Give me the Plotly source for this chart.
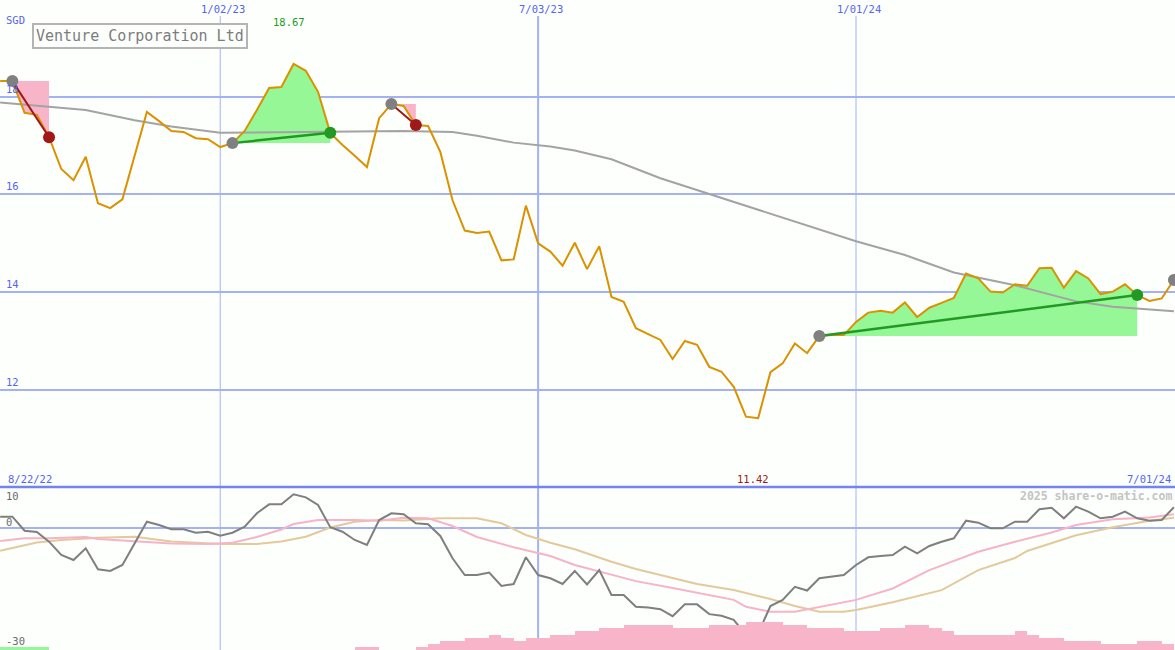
import plotly.graph_objects as go
import pandas as pd

W, H = 1175, 650
SPLIT = 163 / H          # paper y where the price panel starts

# ---------------- data ----------------
dates = pd.date_range("2022-08-29", periods=97, freq="7D")   # weekly points
K0 = 19                                                        # week index k -> list position k + K0

price = [18.32, 18.32, 17.67, 17.63, 17.17, 16.52, 16.29, 16.77, 15.82, 15.72,
         15.90, 16.81, 17.69, 17.50, 17.30, 17.28, 17.15, 17.13, 16.97, 17.05,
         17.30, 17.73, 18.18, 18.20, 18.67, 18.53, 18.10, 17.26, 17.01, 16.79,
         16.56, 17.56, 17.85, 17.81, 17.42, 17.40, 16.87, 15.88, 15.26, 15.21,
         15.24, 14.65, 14.67, 15.77, 15.00, 14.83, 14.54, 15.01, 14.47, 14.94,
         13.90, 13.80, 13.26, 13.14, 13.02, 12.63, 13.00, 12.92, 12.47, 12.37,
         12.06, 11.45, 11.42, 12.36, 12.54, 12.95, 12.75, 13.10, 13.12, 13.12,
         13.39, 13.58, 13.62, 13.58, 13.79, 13.49, 13.68, 13.78, 13.88, 14.38,
         14.28, 14.01, 13.99, 14.16, 14.13, 14.49, 14.50, 14.09, 14.43, 14.28,
         13.96, 14.01, 14.16, 13.94, 13.82, 13.87, 14.25]

ma_k = [-19, -15, -12, -8, -5, -1, 8, 14, 18, 20, 23, 26, 28, 31, 35, 39, 42, 46,
        51, 55, 59, 64, 69, 72, 77]
ma_v = [17.88, 17.80, 17.73, 17.52, 17.39, 17.26, 17.28, 17.30, 17.28, 17.20, 17.06,
        16.98, 16.90, 16.72, 16.33, 16.01, 15.77, 15.45, 15.04, 14.76, 14.40, 14.14,
        13.81, 13.70, 13.61]

osc = [2.71, 2.71, -0.72, -1.04, -3.42, -6.69, -7.91, -5.04, -10.2, -10.6,
       -9.14, -3.99, 1.48, 0.67, -0.38, -0.38, -1.21, -0.97, -1.95, -1.21,
       0.26, 3.55, 5.75, 5.75, 8.21, 7.47, 5.58, 0.11, -0.97, -3.0,
       -4.23, 1.9, 3.55, 3.3, 1.09, 0.85, -2.0, -7.5, -11.6, -11.6,
       -11.0, -14.3, -13.8, -7.25, -11.6, -12.4, -13.8, -10.6, -13.9, -10.4,
       -16.5, -16.5, -19.4, -19.6, -20.0, -21.7, -18.8, -18.8, -21.2, -21.6,
       -22.6, -26.3, -25.9, -19.2, -17.7, -14.5, -15.4, -12.4, -12.0, -11.6,
       -9.14, -7.25, -6.93, -6.69, -4.65, -6.27, -4.48, -3.42, -2.59, 1.73,
       1.24, -0.13, -0.13, 1.48, 1.48, 4.53, 4.92, 2.32, 5.17, 3.94,
       2.32, 2.71, 3.94, 2.32, 1.73, 1.9, 5.02]

pink_k = [-19, -17, -15, -12, -11, -8, -6, -5, -2, 0, 2, 4, 5, 7, 10, 12, 14, 16,
          18, 20, 23, 26, 28, 30, 33, 36, 38, 41, 42, 44, 46, 48, 51, 54, 57, 61,
          64, 67, 69, 72, 75, 77]
pink_v = [-3.25, -2.59, -2.59, -2.27, -2.76, -3.25, -3.67, -3.87, -3.99, -3.67,
          -2.27, -0.43, 0.92, 1.90, 1.90, 1.73, 2.47, 2.32, 0.43, -2.27, -4.80,
          -6.93, -9.14, -10.8, -13.1, -14.8, -15.9, -17.7, -19.4, -20.6, -20.6,
          -19.5, -17.7, -14.9, -10.4, -5.88, -3.42, -1.17, 0.67, 2.07, 2.52, 3.30]

tan_k = [-19, -17, -16, -14, -11, -8, -6, -5, -3, -1, 2, 4, 6, 8, 10, 12, 14, 17,
         20, 22, 24, 26, 28, 31, 33, 36, 38, 41, 44, 46, 48, 50, 51, 54, 58, 61,
         64, 65, 69, 72, 75, 77]
tan_v = [-5.63, -4.36, -3.62, -3.0, -2.44, -2.2, -3.1, -3.4, -3.67, -3.99, -3.99,
         -3.4, -2.2, 0.06, 1.46, 1.90, 1.78, 2.32, 2.32, 1.09, -1.78, -3.67, -5.29,
         -8.33, -10.1, -12.3, -13.8, -15.3, -17.5, -19.2, -20.6, -20.6, -20.2, -18.3,
         -15.3, -10.4, -7.42, -5.7, -1.85, 0.11, 1.73, 2.47]

hist_pink_k = [10, 11] + list(range(15, 77))
hist_pink_v = [1, 1,
               1, 2, 3, 3, 4, 4, 5, 4, 3, 4, 4, 5, 5, 6, 6, 7, 7, 8, 8, 8, 8,
               7, 7, 7, 8, 8, 8, 9, 9, 9, 8, 8, 7, 7, 7, 6, 6, 6, 7, 7, 8, 8,
               7, 6, 5, 5, 5, 5, 5, 6, 5, 4, 4, 3, 3, 3, 2, 2, 2, 3, 3, 2]
hist_green_k = [-19, -18, -17, -16]
hist_green_v = [1, 1, 1, 1]

drops = [(-18, -15), (13, 15)]      # (start week, end week)
rises = [(0, 8), (48, 74)]
open_signals = [77]

grid_dates = ["2023-01-02", "2023-07-03", "2024-01-01"]
grid_labels = ["1/02/23", "7/03/23", "1/01/24"]
grid_widths = [1, 2, 1]
price_ticks = [12, 14, 16, 18]

# ---------------- styling ----------------
BG = "#fcfffc"
BLUE_TXT = "#5565ee"
GRID = "#a4b2f2"
ORANGE = "#da9200"
PINK = "#f8b5c9"
LGREEN = "#96f796"
DGREEN = "#229922"
DRED = "#a01818"
GRAY = "#808080"
FONT = "DejaVu Sans Mono"


def d(k):
    return dates[k + K0]


def p(k):
    return price[k + K0]


fig = go.Figure()

# signal areas (drops pink, rises green)
for (s, e), col in [(r, PINK) for r in drops] + [(r, LGREEN) for r in rises]:
    xs = [d(k) for k in range(s, e + 1)] + [d(e), d(s)]
    ys = [p(k) for k in range(s, e + 1)] + [p(s), p(s)]
    fig.add_trace(go.Scatter(x=xs, y=ys, mode="lines", fill="toself", fillcolor=col,
                             line=dict(width=0), hoverinfo="skip", xaxis="x", yaxis="y"))

# moving average
fig.add_trace(go.Scatter(x=[d(k) for k in ma_k], y=ma_v, mode="lines",
                         line=dict(color="#a3a3a3", width=2), xaxis="x", yaxis="y"))
# price
fig.add_trace(go.Scatter(x=list(dates), y=price, mode="lines",
                         line=dict(color=ORANGE, width=2), xaxis="x", yaxis="y"))

# signal lines
for s, e in drops:
    fig.add_trace(go.Scatter(x=[d(s), d(e)], y=[p(s), p(e)], mode="lines",
                             line=dict(color=DRED, width=2), xaxis="x", yaxis="y"))
for s, e in rises:
    fig.add_trace(go.Scatter(x=[d(s), d(e)], y=[p(s), p(e)], mode="lines",
                             line=dict(color=DGREEN, width=2.5), xaxis="x", yaxis="y"))

# markers
starts = [s for s, _ in drops] + [s for s, _ in rises] + open_signals
fig.add_trace(go.Scatter(x=[d(k) for k in starts], y=[p(k) for k in starts], mode="markers",
                         marker=dict(color=GRAY, size=12, line=dict(width=0)), xaxis="x", yaxis="y"))
fig.add_trace(go.Scatter(x=[d(e) for _, e in drops], y=[p(e) for _, e in drops], mode="markers",
                         marker=dict(color=DRED, size=12, line=dict(width=0)), xaxis="x", yaxis="y"))
fig.add_trace(go.Scatter(x=[d(e) for _, e in rises], y=[p(e) for _, e in rises], mode="markers",
                         marker=dict(color=DGREEN, size=12, line=dict(width=0)), xaxis="x", yaxis="y"))

# ---------------- lower panel ----------------
WEEK_MS = 7 * 86400000
fig.add_trace(go.Bar(x=[d(k) for k in hist_pink_k], y=hist_pink_v, offset=0, width=WEEK_MS,
                     marker=dict(color=PINK, line=dict(width=0)), xaxis="x2", yaxis="y3"))
fig.add_trace(go.Bar(x=[d(k) for k in hist_green_k], y=hist_green_v, offset=0, width=WEEK_MS,
                     marker=dict(color=LGREEN, line=dict(width=0)), xaxis="x2", yaxis="y3"))
fig.add_trace(go.Scatter(x=[d(k) for k in tan_k], y=tan_v, mode="lines",
                         line=dict(color="#e3c99c", width=2), xaxis="x2", yaxis="y2"))
fig.add_trace(go.Scatter(x=[d(k) for k in pink_k], y=pink_v, mode="lines",
                         line=dict(color="#f7b3c8", width=2), xaxis="x2", yaxis="y2"))
fig.add_trace(go.Scatter(x=list(dates), y=osc, mode="lines",
                         line=dict(color="#7f7f7f", width=2), xaxis="x2", yaxis="y2"))

# ---------------- layout ----------------
x_range = [pd.Timestamp("2022-08-28 22:00"), pd.Timestamp("2024-07-01 15:00")]
ax_common = dict(showticklabels=False, zeroline=False, showline=False, ticks="")

shapes = []
for gd, gw in zip(grid_dates, grid_widths):
    shapes.append(dict(type="line", xref="x", yref="paper", x0=gd, x1=gd, y0=0, y1=1 - 16 / H,
                       line=dict(color=GRID, width=gw), layer="below"))
shapes.append(dict(type="line", xref="paper", yref="paper", x0=0, x1=1, y0=SPLIT, y1=SPLIT,
                   line=dict(color="#7484ec", width=2.5), layer="above"))

ann = []


def txt(xp, yp, s, color, size=10, anchor="left", bold=False, **kw):
    ann.append(dict(x=xp / W, y=1 - yp / H, xref="paper", yref="paper", text=f"<b>{s}</b>" if bold else s,
                    showarrow=False, xanchor=anchor, yanchor="middle",
                    font=dict(family=FONT, size=size, color=color), **kw))


txt(4, 20, "SGD", BLUE_TXT, size=10.5)
for gd, gl in zip(grid_dates, grid_labels):
    ann.append(dict(x=gd, xref="x", y=1 - 9 / H, yref="paper", text=gl, showarrow=False,
                    xanchor="center", yanchor="middle", xshift=3,
                    font=dict(family=FONT, size=10.5, color=BLUE_TXT)))
imax = price.index(max(price))
imin = price.index(min(price))
ann.append(dict(x=dates[imax], xref="x", y=1 - 22 / H, yref="paper", text=f"{max(price):.2f}",
                showarrow=False, xanchor="center", yanchor="middle", xshift=-5,
                font=dict(family=FONT, size=10.5, color=DGREEN)))
ann.append(dict(x=dates[imin], xref="x", y=1 - 478.5 / H, yref="paper", text=f"{min(price):.2f}",
                showarrow=False, xanchor="center", yanchor="middle", xshift=-5,
                font=dict(family=FONT, size=10.5, color=DRED)))
for t in price_ticks:
    ann.append(dict(x=4 / W, xref="paper", y=t, yref="y", text=str(t), showarrow=False,
                    xanchor="left", yanchor="bottom", yshift=0,
                    font=dict(family=FONT, size=10.5, color=BLUE_TXT)))
txt(6, 479.5, "8/22/22", BLUE_TXT, size=10.5)
txt(1173, 479.5, "7/01/24", BLUE_TXT, size=10.5, anchor="right")
txt(4, 496, "10", "#6a6a6a", size=10.5)
txt(4, 522, "0", "#6a6a6a", size=10.5)
txt(4, 641, "-30", "#6a6a6a", size=10.5)
txt(1174, 496, "2025 share-o-matic.com", "#c4c4c4", size=11.5, anchor="right", bold=True)

# title box
ann.append(dict(x=140 / W, y=1 - 36.5 / H, xref="paper", yref="paper", text="Venture Corporation Ltd",
                showarrow=False, xanchor="center", yanchor="middle",
                font=dict(family=FONT, size=15, color="#7c7c7c"),
                bordercolor="#b4b4b4", borderwidth=2, borderpad=2, bgcolor=BG))

fig.update_layout(
    width=W, height=H, margin=dict(l=0, r=0, t=0, b=0),
    paper_bgcolor=BG, plot_bgcolor=BG, showlegend=False, bargap=0, barmode="overlay",
    xaxis=dict(domain=[0, 1], range=x_range, type="date", anchor="y", showgrid=False, **ax_common),
    yaxis=dict(domain=[SPLIT, 1], range=[10.01, 19.98], tickvals=price_ticks, showgrid=True,
               gridcolor=GRID, gridwidth=2, anchor="x", **ax_common),
    xaxis2=dict(domain=[0, 1], matches="x", type="date", anchor="y2", showgrid=False, **ax_common),
    yaxis2=dict(domain=[0, SPLIT], range=[-30, 10], tickvals=[0], showgrid=True,
                gridcolor=GRID, gridwidth=2, anchor="x2", **ax_common),
    yaxis3=dict(overlaying="y2", range=[0, 52.6], visible=False, anchor="x2"),
    shapes=shapes, annotations=ann,
)

fig.write_html("out.html", config={"displayModeBar": False},
               post_script="document.body.style.margin='0px';document.body.style.overflow='hidden';")
